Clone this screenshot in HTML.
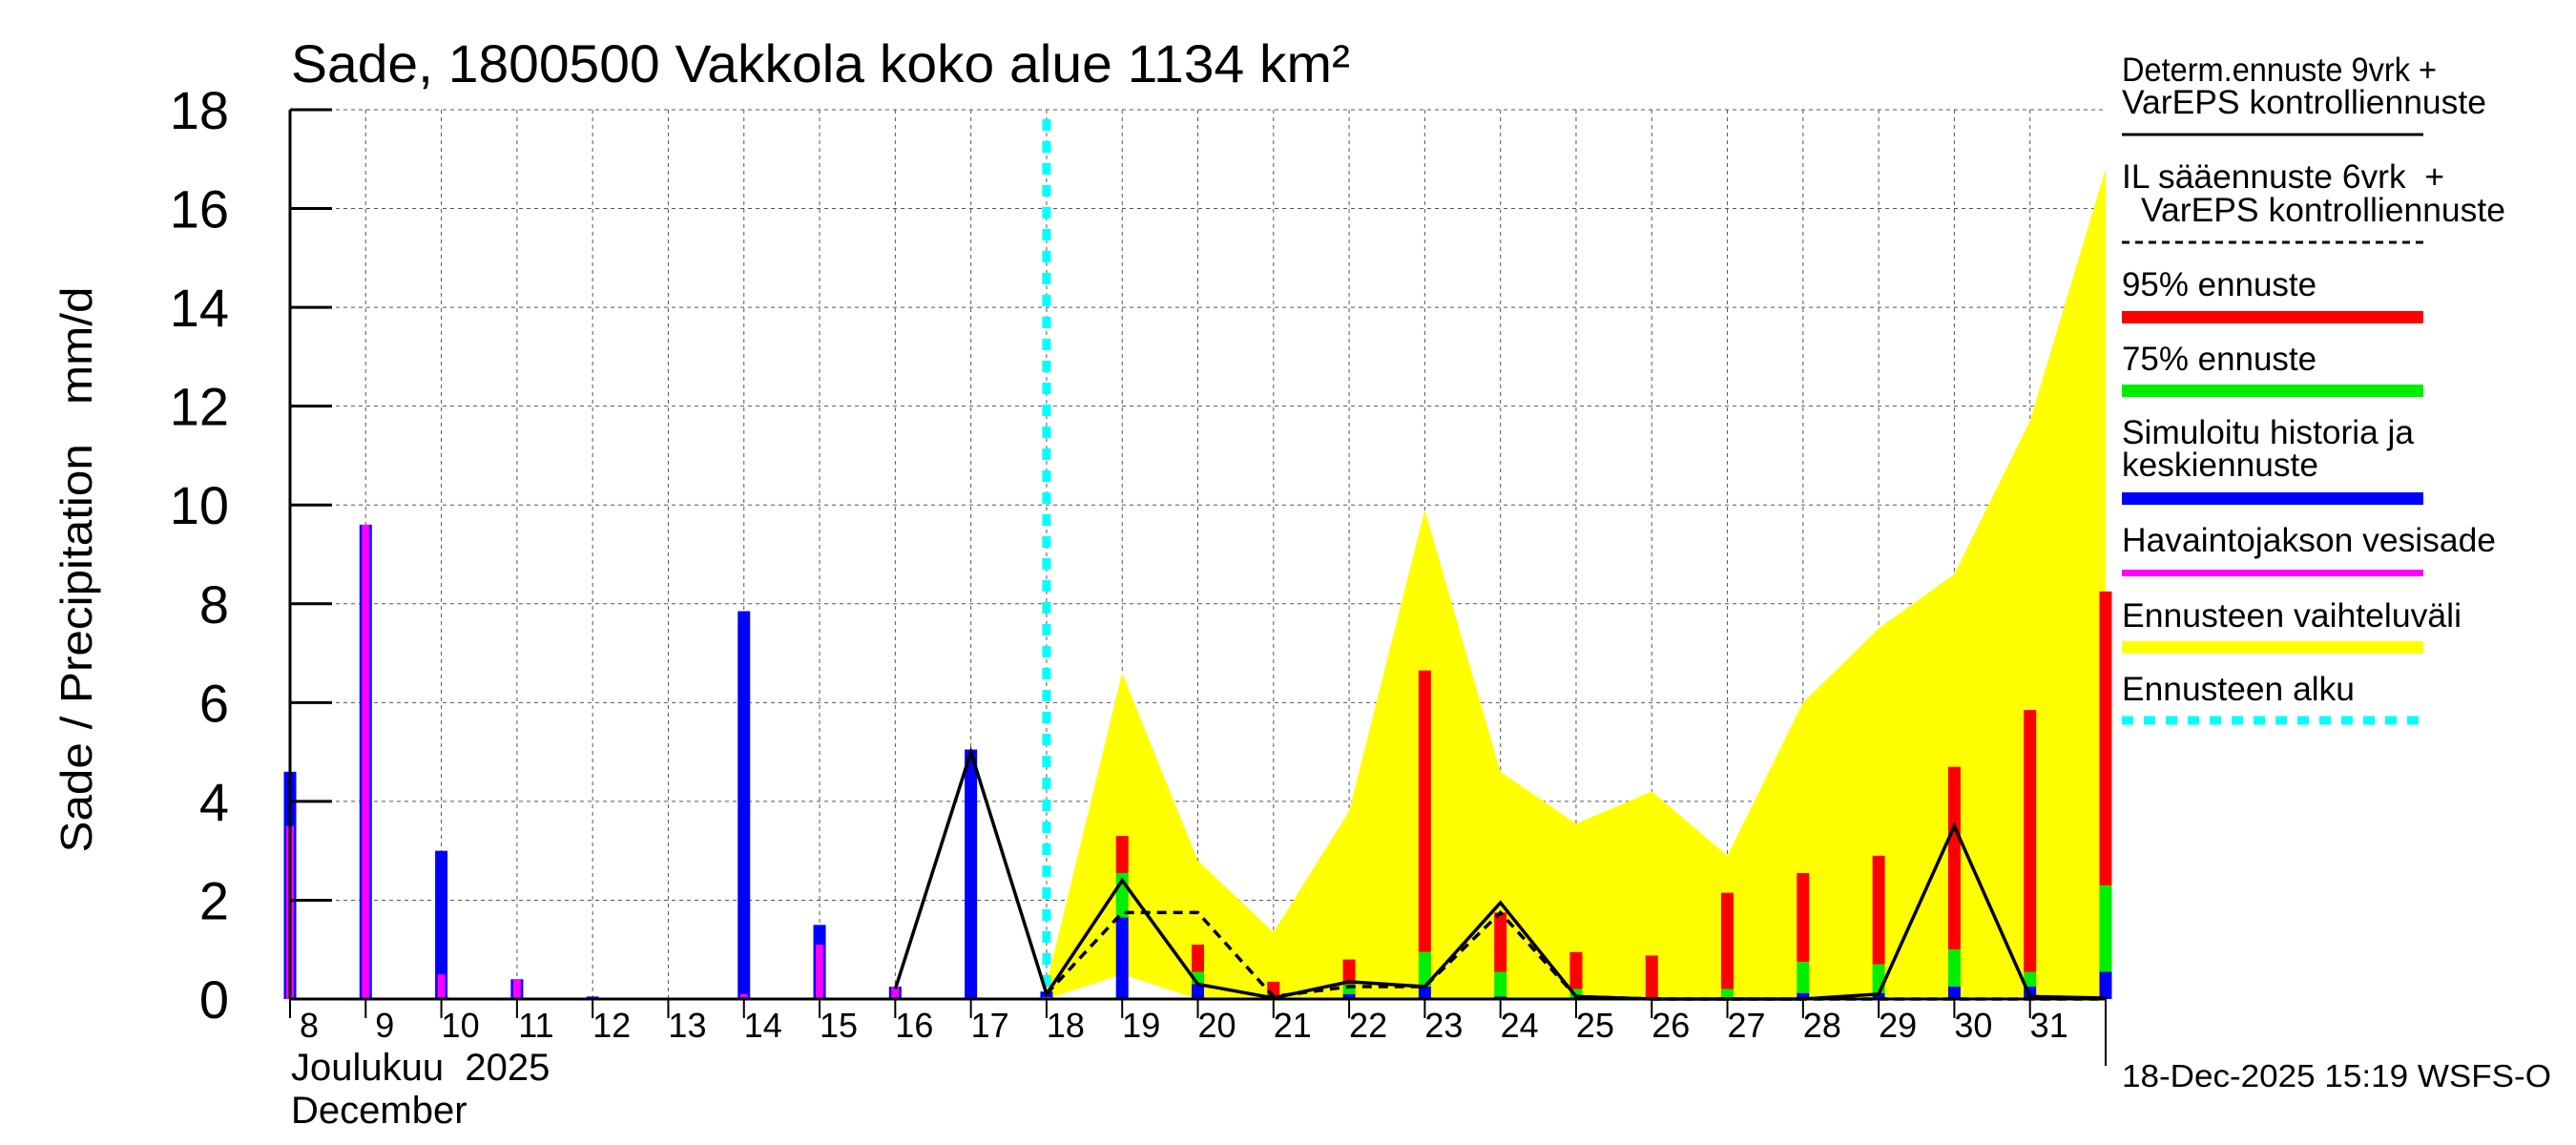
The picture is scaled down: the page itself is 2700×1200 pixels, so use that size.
<!DOCTYPE html>
<html><head><meta charset="utf-8"><style>
html,body{margin:0;padding:0;background:#fff}
svg{display:block;font-family:"Liberation Sans",sans-serif}
</style></head><body>
<svg id="chart" width="2700" height="1200" viewBox="0 0 2700 1200" xmlns="http://www.w3.org/2000/svg">
<rect width="2700" height="1200" fill="#fff"/>
<g id="grid"></g>
<g id="band"></g>
<g id="bars"></g>
<g id="lines"></g>
<g id="axes"></g>
<text x="305" y="86" font-size="56" textLength="1110" lengthAdjust="spacingAndGlyphs">Sade, 1800500 Vakkola koko alue 1134 km²</text>
<text transform="translate(96,597) rotate(-90)" text-anchor="middle" font-size="46" textLength="593" lengthAdjust="spacingAndGlyphs">Sade / Precipitation&#160;&#160;&#160;mm/d</text>
<text x="305" y="1132" font-size="40">Joulukuu&#160;&#160;2025</text>
<text x="305" y="1177" font-size="40">December</text>
<g id="legend" font-size="35">
<text x="2224" y="85" textLength="330" lengthAdjust="spacingAndGlyphs">Determ.ennuste 9vrk +</text>
<text x="2224" y="119" textLength="382" lengthAdjust="spacingAndGlyphs">VarEPS kontrolliennuste</text>
<line x1="2224" y1="141" x2="2540" y2="141" stroke="#000" stroke-width="3"/>
<text x="2224" y="197" textLength="338" lengthAdjust="spacingAndGlyphs">IL sääennuste 6vrk&#160;&#160;+</text>
<text x="2244" y="232" textLength="382" lengthAdjust="spacingAndGlyphs">VarEPS kontrolliennuste</text>
<line x1="2224" y1="254" x2="2540" y2="254" stroke="#000" stroke-width="3" stroke-dasharray="8,6"/>
<text x="2224" y="310" textLength="204" lengthAdjust="spacingAndGlyphs">95% ennuste</text>
<rect x="2224" y="326" width="316" height="13" fill="#f00"/>
<text x="2224" y="388" textLength="204" lengthAdjust="spacingAndGlyphs">75% ennuste</text>
<rect x="2224" y="403" width="316" height="13" fill="#0e0"/>
<text x="2224" y="465" textLength="306" lengthAdjust="spacingAndGlyphs">Simuloitu historia ja</text>
<text x="2224" y="499" textLength="206" lengthAdjust="spacingAndGlyphs">keskiennuste</text>
<rect x="2224" y="516" width="316" height="13" fill="#00f"/>
<text x="2224" y="578" textLength="392" lengthAdjust="spacingAndGlyphs">Havaintojakson vesisade</text>
<rect x="2224" y="597" width="316" height="7" fill="#f0f"/>
<text x="2224" y="657" textLength="356" lengthAdjust="spacingAndGlyphs">Ennusteen vaihteluväli</text>
<rect x="2224" y="672" width="316" height="13" fill="#ff0"/>
<text x="2224" y="734" textLength="244" lengthAdjust="spacingAndGlyphs">Ennusteen alku</text>
<line x1="2224" y1="755" x2="2540" y2="755" stroke="#0ff" stroke-width="9" stroke-dasharray="12,11"/>
</g>
<text x="2224" y="1139" font-size="33" textLength="450" lengthAdjust="spacingAndGlyphs">18-Dec-2025 15:19 WSFS-O</text>
</svg>
<script>
// data
const histDays = [8,9,10,11,12,13,14,15,16,17,18];
const histSim = [4.6,9.6,3.0,0.4,0.05,0,7.85,1.5,0.25,5.05,0.15];
const histObs = [3.5,9.6,0.5,0.4,0,0,0.1,1.1,0.25,0,0];
const fcDays = [19,20,21,22,23,24,25,26,27,28,29,30,31,32];
const fcMean = [1.65,0.3,0,0.1,0.25,0.05,0.02,0,0,0.12,0.12,0.25,0.25,0.55];
const fc75 = [2.55,0.55,0.05,0.3,0.95,0.55,0.2,0,0.2,0.75,0.7,1.0,0.55,2.3];
const fc95 = [3.3,1.1,0.35,0.8,6.65,1.75,0.95,0.88,2.15,2.55,2.9,4.7,5.85,8.25];
const bandDays = [18,19,20,21,22,23,24,25,26,27,28,29,30,31,32];
const bandHigh = [0.3,6.6,2.8,1.35,3.8,9.9,4.6,3.55,4.2,2.9,6.0,7.5,8.6,11.7,16.8];
const bandLow = [0,0.5,0,0,0,0,0,0,0,0,0,0,0,0,0];
const detDays = [16,17,18,19,20,21,22,23,24,25,26,27,28,29,30,31,32];
const detVals = [0.2,5.0,0.1,2.4,0.3,0.02,0.35,0.25,1.95,0.05,0,0,0,0.1,3.5,0.05,0.02];
const ilDays = [18,19,20,21,22,23,24,25,26,27,28,29,30,31,32];
const ilVals = [0.1,1.75,1.75,0.05,0.25,0.25,1.75,0.05,0,0,0,0,0,0,0];
const yTicks = [0,2,4,6,8,10,12,14,16,18];
const dayLabels = [8,9,10,11,12,13,14,15,16,17,18,19,20,21,22,23,24,25,26,27,28,29,30,31];

const L=304,R=2207,T=115,B=1047,D0=8,D1=32,YMAX=18;
const X=d=>L+(d-D0)*(R-L)/(D1-D0);
const Y=v=>B-v*(B-T)/YMAX;
const NS='http://www.w3.org/2000/svg';
function mk(tag,parent,attrs){const e=document.createElementNS(NS,tag);for(const k in attrs)e.setAttribute(k,attrs[k]);parent.appendChild(e);return e;}
const grid=document.getElementById('grid'),band=document.getElementById('band'),bars=document.getElementById('bars'),lines=document.getElementById('lines'),axes=document.getElementById('axes');

yTicks.forEach(v=>{
  if(v>0){const g=mk('line',grid,{x1:L,x2:R,y1:Y(v),y2:Y(v),stroke:'#555','stroke-width':1,'stroke-dasharray':'4,4'});
  
  }
  const t=mk('line',axes,{x1:L,x2:L+44,y1:Y(v),y2:Y(v),stroke:'#000','stroke-width':3});
  
  
  const lb=mk('text',axes,{x:240,y:Y(v)+20,'text-anchor':'end','font-size':56});
  lb.textContent=v;
  
  
});
dayLabels.forEach(d=>{
  if(d>D0){const g=mk('line',grid,{x1:X(d),x2:X(d),y1:T,y2:B,stroke:'#555','stroke-width':1,'stroke-dasharray':'4,4'});
  
  }
  const t=mk('line',axes,{x1:X(d),x2:X(d),y1:B,y2:B+20,stroke:'#000','stroke-width':2});
  
  
  const lb=mk('text',axes,{x:X(d)+20,y:B+40,'text-anchor':'middle','font-size':36});
  lb.textContent=d;
  
  
});

// band
let pts=bandDays.map((d,i)=>X(d)+','+Y(bandHigh[i]));
for(let i=bandDays.length-1;i>=0;i--)pts.push(X(bandDays[i])+','+Y(bandLow[i]));
const poly=mk('polygon',band,{points:pts.join(' '),fill:'#ff0'});



const BW=13;
function bar(d,v0,v1,w,col,name){
  if(v1<=v0)return;
  const r=mk('rect',bars,{x:X(d)-w/2,y:Y(v1),width:w,height:Y(v0)-Y(v1),fill:col});
  
  
}
histDays.forEach((d,i)=>{
  bar(d,0,histSim[i],BW,'#00f','history-sim-bar');
  bar(d,0,histObs[i],8,'#f0f','observed-bar');
});
fcDays.forEach((d,i)=>{
  bar(d,fc75[i],fc95[i],BW,'#f00','forecast-95-bar');
  bar(d,fcMean[i],fc75[i],BW,'#0e0','forecast-75-bar');
  bar(d,0,fcMean[i],BW,'#00f','forecast-mean-bar');
});
const cy=mk('line',lines,{x1:X(18),x2:X(18),y1:T+10,y2:B,stroke:'#0ff','stroke-width':9,'stroke-dasharray':'12,11'});



const det=mk('polyline',lines,{points:detDays.map((d,i)=>X(d)+','+Y(detVals[i])).join(' '),fill:'none',stroke:'#000','stroke-width':3.5});


const il=mk('polyline',lines,{points:ilDays.map((d,i)=>X(d)+','+Y(ilVals[i])).join(' '),fill:'none',stroke:'#000','stroke-width':3.5,'stroke-dasharray':'10,7'});



const ax1=mk('line',axes,{x1:L,x2:L,y1:T,y2:B,stroke:'#000','stroke-width':3});


const ax2=mk('line',axes,{x1:L,x2:R,y1:B,y2:B,stroke:'#000','stroke-width':3});


const ax3=mk('line',axes,{x1:R,x2:R,y1:B,y2:1117,stroke:'#000','stroke-width':2});


</script>
</body></html>
